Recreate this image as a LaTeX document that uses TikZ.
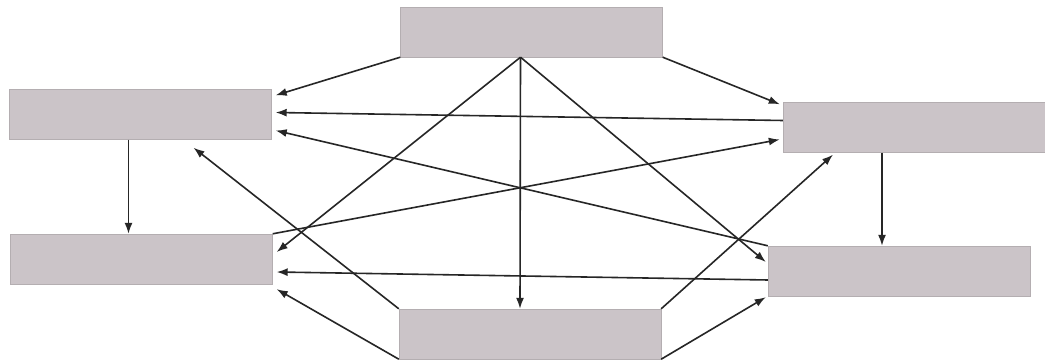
\documentclass[tikz,border=0pt]{standalone}
\usepackage{xcolor}
\usepackage{tikz}
\usetikzlibrary{arrows.meta,positioning}
\definecolor{boxgrey}{RGB}{203,196,200}
\definecolor{boxedge}{RGB}{180,174,177}
\tikzset{
  pbox/.style={draw=boxedge,fill=boxgrey,minimum width=262,minimum height=50,inner sep=0pt},
  flow/.style={-{Latex[length=11pt,width=8pt]},line width=1.6pt,draw=black!85},
}

\begin{document}
\begin{tikzpicture}[x=1pt,y=1pt]
  \fill[white] (0,0) rectangle (1045,363);
  \useasboundingbox (0,0) rectangle (1045,363);

  \node[pbox] (top)  at (531.5,331) {};
  \node[pbox] (lup)  at (140.5,248.5) {};
  \node[pbox] (rup)  at (914,235.5) {};
  \node[pbox] (llo)  at (141.5,104) {};
  \node[pbox] (bot)  at (530,29) {};
  \node[pbox] (rlo)  at (899,92) {};

  % fan out of the top box
  \coordinate (apex) at ([xshift=-11]top.south);
  \draw[flow] (top.south west) -- ([shift={(4,-6)}]lup.north east);
  \draw[flow] (top.south east) -- ([shift={(-3,-2)}]rup.north west);
  \draw[flow] (apex) -- ([shift={(4,7)}]llo.east);
  \draw[flow] (apex) -- ([xshift=-10]bot.north);
  \draw[flow] (apex) -- ([shift={(-2,9)}]rlo.west);

  % verticals
  \draw[flow] ([xshift=-12]lup.south) -- ([xshift=-13]llo.north);
  \draw[flow] ([xshift=-32]rup.south) -- ([xshift=-17]rlo.north);

  % crossings
  \draw[flow] ([yshift=7]rup.west) -- ([shift={(4,2)}]lup.east);
  \draw[flow] (rlo.north west) -- ([shift={(4,-16)}]lup.east);
  \draw[flow] (llo.north east) -- ([shift={(-3,-12)}]rup.west);
  \draw[flow] ([yshift=-9]rlo.west) -- ([shift={(4,-13)}]llo.east);

  % out of the bottom box
  \draw[flow] (bot.north west) -- ([shift={(53,-8)}]lup.south);
  \draw[flow] (bot.north east) -- ([shift={(-81,-2)}]rup.south);
  \draw[flow] (bot.south west) -- ([shift={(4,-5)}]llo.south east);
  \draw[flow] (bot.south east) -- ([shift={(-2,-1)}]rlo.south west);
\end{tikzpicture}
\end{document}
